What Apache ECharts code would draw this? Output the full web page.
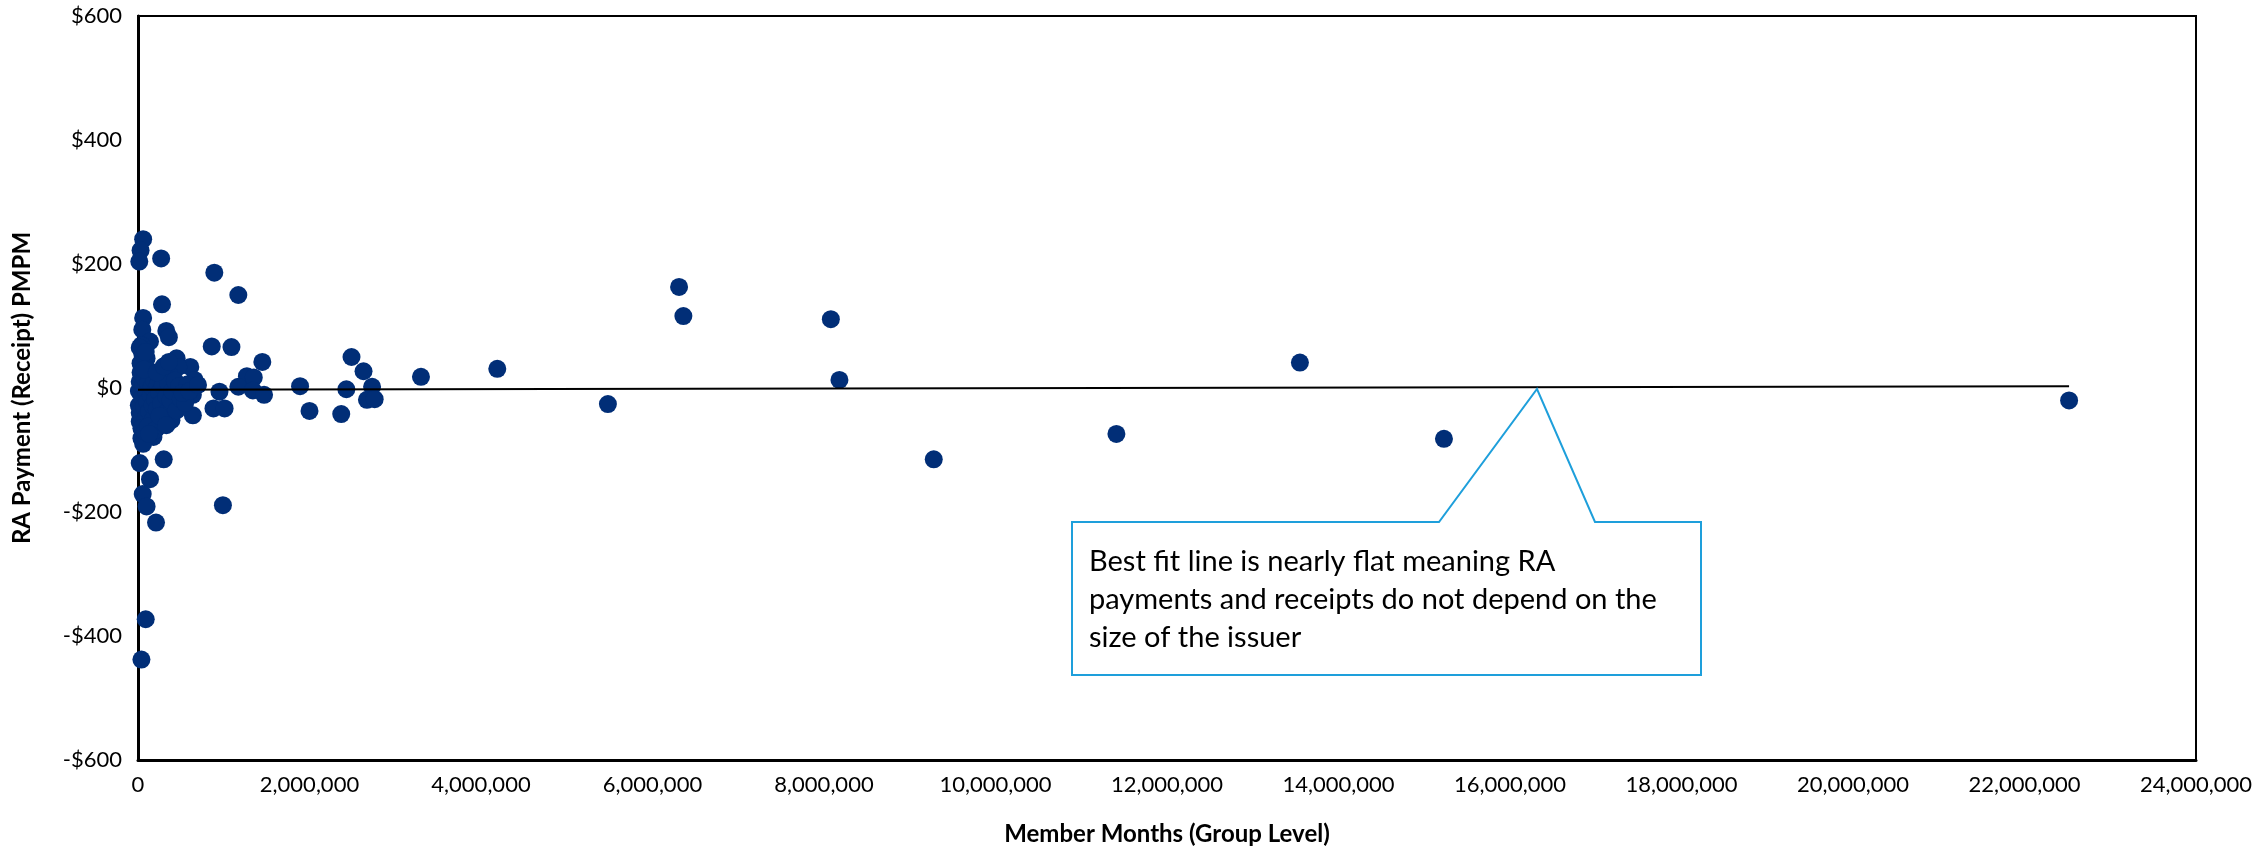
<!DOCTYPE html>
<html>
<head>
<meta charset="utf-8">
<script src="https://cdn.jsdelivr.net/npm/echarts@6/dist/echarts.min.js"></script>
<style>
html,body{margin:0;padding:0;background:#fff;}
#chart{width:2268px;height:852px;}
</style>
</head>
<body>
<div id="chart"></div>
<script>
// Member months (millions) and RA payment (receipt) PMPM
const memberMonthsM = [
  0.06,0.03,0.015,0.27,0.89,1.17,0.28,0.06,0.33,0.36,0.05,0.14,0.04,0.86,1.09,1.45,2.49,2.63,3.30,4.19,
  0.45,0.61,0.10,0.12,0.66,0.30,0.47,1.27,1.35,1.17,1.34,1.47,1.89,2.43,2.73,2.67,2.76,2.00,2.37,0.95,
  0.64,0.88,1.01,0.64,0.02,0.30,0.14,0.055,0.10,0.21,0.99,0.09,0.04,0.04,0.16,0.02,0.39,0.41,0.37,0.26,
  0.14,0.18,5.48,6.31,6.36,8.08,8.18,9.28,11.41,13.55,15.23,22.52,
  0.01,0.02,0.03,0.01,0.02,0.05,0.06,0.07,0.08,0.09,0.10,0.11,0.12,0.13,0.15,0.16,0.17,0.18,0.19,0.20,
  0.22,0.23,0.24,0.25,0.27,0.29,0.31,0.33,0.35,0.38,0.40,0.43,0.45,0.48,0.50,0.55,0.58,0.03,0.05,0.07,
  0.04,0.06,0.08,0.12,0.20,0.25,0.02,0.09,0.22,0.30,0.36,0.52,0.60,0.70,0.13,0.33
];
const raPmpm = [
  240,222,204,209,186,150,135,113,92,82,94,75,69,67,66,42,50,27,18,31,
  48,34,48,29,13,16,34,19,17,2,-4,-11,3,-2,2,-19,-18,-37,-42,-6,
  -11,-33,-33,-44,-121,-115,-147,-171,-191,-217,-189,-373,-438,-81,-76,-54,-52,-30,21,16,
  -57,-79,-26,163,116,111,13,-115,-74,41,-82,-20,
  -5,10,25,-28,-40,-15,5,-30,15,-48,-8,-22,8,-38,-12,2,-28,-50,12,-18,
  -35,5,-62,-8,-25,4,-42,-14,8,-20,-5,12,-36,3,-18,-24,6,40,55,30,
  -65,-90,-70,-62,-68,-45,65,58,25,35,42,-8,-5,5,-74,-60
];
// best fit line end points
const trendX = [0, 22.52];
const trendY = [-3, 3];

const yTicks = { min: -600, max: 600, interval: 200 };
const xTicks = { min: 0, max: 24000000, interval: 2000000 };

const points = memberMonthsM.map((m, i) => [m * 1e6, raPmpm[i]]);
const trend = trendX.map((m, i) => [m * 1e6, trendY[i]]);

const FONT = 'Lato, "Open Sans", sans-serif';
const chart = echarts.init(document.getElementById('chart'));
chart.setOption({
  animation: false,
  backgroundColor: '#fff',
  grid: { left: 138, right: 72, top: 16, bottom: 92, show: true, borderColor: '#000', borderWidth: 2 },
  xAxis: {
    type: 'value', min: xTicks.min, max: xTicks.max, interval: xTicks.interval,
    name: 'Member Months (Group Level)', nameLocation: 'middle', nameGap: 62,
    nameTextStyle: { fontFamily: FONT, fontWeight: 'bold', fontSize: 24, color: '#000' },
    axisLine: { show: true, onZero: false, lineStyle: { color: '#000', width: 3 } },
    axisTick: { show: false },
    splitLine: { show: false },
    axisLabel: { fontFamily: FONT, fontSize: 22, color: '#000', margin: 14,
      formatter: v => v.toLocaleString('en-US') }
  },
  yAxis: {
    type: 'value', min: yTicks.min, max: yTicks.max, interval: yTicks.interval,
    name: 'RA Payment (Receipt) PMPM', nameLocation: 'middle', nameGap: 104,
    nameTextStyle: { fontFamily: FONT, fontWeight: 'bold', fontSize: 24, color: '#000' },
    axisLine: { show: true, onZero: false, lineStyle: { color: '#000', width: 3 } },
    axisTick: { show: false },
    splitLine: { show: false },
    axisLabel: { fontFamily: FONT, fontSize: 22, color: '#000', margin: 16,
      formatter: v => (v < 0 ? '-$' : '$') + Math.abs(v) }
  },
  series: [
    {
      type: 'scatter', data: points, symbol: 'circle', symbolSize: 18,
      itemStyle: { color: '#012E77', opacity: 1 }, z: 2
    },
    {
      type: 'line', data: trend, showSymbol: false, symbol: 'none',
      lineStyle: { color: '#000', width: 2 }, z: 3
    }
  ],
  graphic: [
    {
      type: 'polygon', z: 10,
      shape: { points: [[1072,522],[1439,522],[1537,389],[1595,522],[1701,522],[1701,675],[1072,675]] },
      style: { fill: '#fff', stroke: '#1E9FDB', lineWidth: 2 }
    },
    {
      type: 'text', z: 11, left: 1089, top: 543,
      style: {
        text: 'Best fit line is nearly flat meaning RA\npayments and receipts do not depend on the\nsize of the issuer',
        font: '29px ' + FONT, fill: '#000', lineHeight: 38
      }
    }
  ]
});
</script>
</body>
</html>
